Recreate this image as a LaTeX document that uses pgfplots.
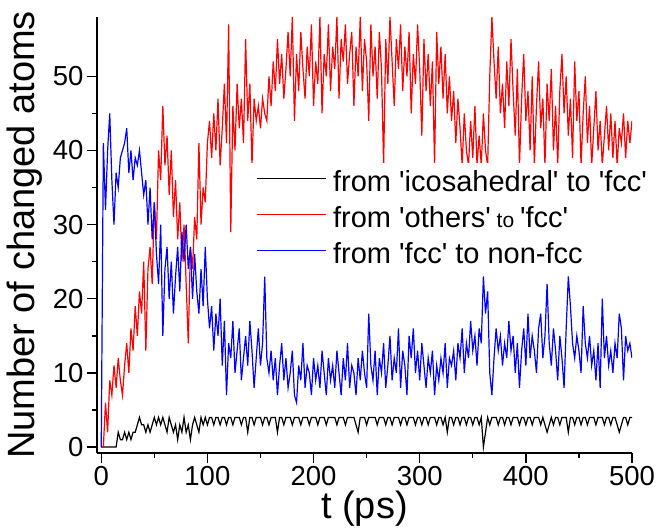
\documentclass[border=0pt]{standalone}
\usepackage{fontspec}
\setmainfont{Liberation Sans}[Ligatures=TeXOff]
\usepackage{pgfplots}
\pgfplotsset{compat=1.18}
\newcommand{\q}{\textquotesingle}
\begin{document}
\begin{tikzpicture}
\useasboundingbox (-97pt,-74pt) rectangle (563pt,453pt);
\begin{axis}[
  scale only axis, width=535pt, height=436pt,
  xmin=-4, xmax=500, ymin=-0.8, ymax=58,
  axis x line*=bottom, axis y line*=left,
  axis line style={line width=1.6pt, -},
  xtick={0,100,...,500}, ytick={0,10,...,50},
  minor x tick num=1, minor y tick num=1,
  tick align=outside,
  major tick length=10pt, minor tick length=5pt,
  every tick/.style={line width=1.4pt, black},
  /pgf/number format/assume math mode=true,
  ticklabel style={font=\fontsize{27.5}{28}\selectfont},
  xlabel={t (ps)}, ylabel={Number of changed atoms},
  xlabel style={at={(axis description cs:0.5,-0.128)}, anchor=center, font=\fontsize{38}{40}\selectfont},
  ylabel style={at={(axis description cs:-0.135,0.5)}, anchor=center, font=\fontsize{38}{40}\selectfont},
  legend cell align=left,
  legend image code/.code={\draw[#1] (0pt,0.3em) -- (69pt,0.3em);},
  legend style={at={(axis cs:138,38.3)}, anchor=north west, draw=none, fill=white,
    inner xsep=8pt, inner ysep=3pt, font=\fontsize{29}{30}\selectfont,
    row sep=5pt, column sep=7pt,
    nodes={inner sep=0pt, text height=25pt, text depth=6pt}},
]
\addplot[black, line width=1.2pt] coordinates {
(0,0)(2,0)(4,0)(6,0)(8,0)(10,0)(12,0)(14,0)(16,2)(18,1)(20,1)(22,2)(24,1)(26,2)(28,1)(30,2)(32,2)(34,3)(36,4)(38,3)(40,3)(42,2)(44,3)(46,2)(48,3)(50,4)
(52,3)(54,4)(56,3)(58,4)(60,3)(62,2)(64,4)(66,3)(68,2)(70,3)(72,1)(74,3)(76,2)(78,4)(80,2)(82,3)(84,1)(86,3)(88,4)(90,3)(92,2)(94,4)(96,3)(98,4)(100,3)
(102,4)(104,4)(106,3)(108,4)(110,4)(112,3)(114,4)(116,4)(118,3)(120,4)(122,4)(124,3)(126,4)(128,4)(130,4)(132,3)(134,4)(136,4)(138,2)(140,4)(142,4)(144,3)(146,4)(148,4)(150,4)
(152,3)(154,4)(156,4)(158,3)(160,4)(162,4)(164,4)(166,2)(168,4)(170,4)(172,3)(174,4)(176,4)(178,4)(180,3)(182,4)(184,4)(186,4)(188,3)(190,4)(192,4)(194,4)(196,3)(198,4)(200,4)
(202,4)(204,3)(206,4)(208,4)(210,4)(212,3)(214,4)(216,4)(218,4)(220,4)(222,3)(224,4)(226,4)(228,4)(230,3)(232,4)(234,4)(236,4)(238,4)(240,3)(242,2)(244,4)(246,4)(248,4)(250,3)
(252,4)(254,4)(256,4)(258,4)(260,3)(262,4)(264,4)(266,4)(268,3)(270,4)(272,4)(274,3)(276,4)(278,4)(280,4)(282,3)(284,4)(286,4)(288,3)(290,4)(292,4)(294,4)(296,3)(298,4)(300,4)
(302,3)(304,4)(306,4)(308,3)(310,4)(312,4)(314,4)(316,3)(318,4)(320,4)(322,3)(324,4)(326,2)(328,4)(330,4)(332,3)(334,4)(336,4)(338,3)(340,4)(342,4)(344,3)(346,4)(348,4)(350,3)
(352,4)(354,4)(356,3)(358,4)(360,0)(362,2)(364,4)(366,3)(368,4)(370,4)(372,4)(374,3)(376,4)(378,4)(380,3)(382,4)(384,4)(386,3)(388,4)(390,4)(392,4)(394,3)(396,4)(398,4)(400,3)
(402,4)(404,4)(406,3)(408,4)(410,4)(412,4)(414,3)(416,4)(418,3)(420,2)(422,3)(424,4)(426,3)(428,4)(430,4)(432,3)(434,4)(436,4)(438,4)(440,2)(442,4)(444,4)(446,3)(448,4)(450,4)
(452,3)(454,4)(456,4)(458,3)(460,4)(462,4)(464,4)(466,3)(468,4)(470,4)(472,4)(474,3)(476,4)(478,4)(480,3)(482,4)(484,4)(486,3)(488,2)(490,3)(492,4)(494,4)(496,3)(498,4)(500,4)
};
\addlegendentry{from \q icosahedral\q{} to \q fcc\q}
\addplot[red, line width=1.2pt] coordinates {
(0,0)(2,0)(4,6)(6,2)(8,9)(10,7)(12,11)(14,8)(16,12)(18,9)(20,7)(22,11)(24,14)(26,10)(28,16)(30,13)(32,19)(34,15)(36,21)(38,18)(40,25)(42,13)(44,24)(46,27)(48,22)(50,33)
(52,28)(54,40)(56,36)(58,46)(60,38)(62,42)(64,34)(66,40)(68,31)(70,36)(72,28)(74,33)(76,25)(78,30)(80,22)(82,14)(84,27)(86,24)(88,31)(90,28)(92,41)(94,30)(96,35)(98,33)(100,41)
(102,44)(104,39)(106,45)(108,40)(110,47)(112,38)(114,43)(116,49)(118,41)(120,57)(122,29)(124,46)(126,40)(128,49)(130,43)(132,47)(134,41)(136,55)(138,44)(140,49)(142,38)(144,47)(146,44)(148,46)(150,43)
(152,47)(154,45)(156,44)(158,50)(160,46)(162,52)(164,48)(166,55)(168,49)(170,53)(172,47)(174,51)(176,56)(178,50)(180,58)(182,44)(184,53)(186,48)(188,56)(190,51)(192,47)(194,54)(196,50)(198,57)(200,46)
(202,52)(204,49)(206,58)(208,45)(210,53)(212,50)(214,57)(216,48)(218,54)(220,51)(222,58)(224,47)(226,55)(228,52)(230,57)(232,49)(234,53)(236,56)(238,46)(240,54)(242,50)(244,58)(246,48)(248,55)(250,52)
(252,44)(254,57)(256,50)(258,54)(260,47)(262,56)(264,51)(266,38)(268,55)(270,49)(272,58)(274,52)(276,46)(278,55)(280,51)(282,57)(284,48)(286,54)(288,50)(290,56)(292,45)(294,53)(296,49)(298,57)(300,51)
(302,42)(304,55)(306,48)(308,53)(310,46)(312,52)(314,38)(316,56)(318,49)(320,54)(322,47)(324,53)(326,45)(328,50)(330,44)(332,48)(334,41)(336,47)(338,43)(340,38)(342,45)(344,40)(346,38)(348,44)(350,39)
(352,46)(354,38)(356,42)(358,38)(360,45)(362,40)(364,38)(366,50)(368,58)(370,52)(372,47)(374,54)(376,45)(378,49)(380,43)(382,52)(384,46)(386,55)(388,48)(390,42)(392,51)(394,38)(396,47)(398,53)(400,44)
(402,48)(404,40)(406,50)(408,38)(410,46)(412,52)(414,43)(416,47)(418,38)(420,49)(422,44)(424,51)(426,40)(428,46)(430,38)(432,48)(434,53)(436,45)(438,50)(440,42)(442,47)(444,39)(446,52)(448,44)(450,48)
(452,38)(454,45)(456,50)(458,41)(460,46)(462,38)(464,43)(466,48)(468,40)(470,44)(472,38)(474,42)(476,46)(478,40)(480,45)(482,39)(484,44)(486,38)(488,43)(490,41)(492,45)(494,39)(496,44)(498,41)(500,44)
};
\addlegendentry{from \q others\q{}{\fontsize{21}{22}\selectfont\ to }\q fcc\q}
\addplot[blue, line width=1.2pt] coordinates {
(0,0)(2,41)(4,32)(6,40)(8,45)(10,36)(12,30)(14,37)(16,35)(18,39)(20,40)(22,41)(24,43)(26,37)(28,40)(30,36)(32,39)(34,38)(36,40)(38,37)(40,34)(42,36)(44,30)(46,35)(48,28)(50,33)
(52,26)(54,22)(56,30)(58,15)(60,24)(62,27)(64,20)(66,25)(68,18)(70,23)(72,27)(74,21)(76,29)(78,25)(80,30)(82,24)(84,27)(86,20)(88,26)(90,21)(92,18)(94,24)(96,19)(98,27)(100,20)
(102,16)(104,19)(106,13)(108,18)(110,15)(112,20)(114,11)(116,17)(118,7)(120,14)(122,12)(124,17)(126,10)(128,13)(130,16)(132,9)(134,12)(136,15)(138,11)(140,17)(142,13)(144,8)(146,12)(148,16)(150,11)
(152,14)(154,23)(156,12)(158,10)(160,13)(162,9)(164,12)(166,7)(168,11)(170,14)(172,9)(174,12)(176,8)(178,10)(180,13)(182,7)(184,6)(186,11)(188,9)(190,14)(192,8)(194,11)(196,10)(198,7)(200,12)
(202,9)(204,11)(206,8)(208,13)(210,10)(212,7)(214,12)(216,9)(218,11)(220,8)(222,13)(224,10)(226,7)(228,12)(230,9)(232,14)(234,8)(236,11)(238,10)(240,7)(242,12)(244,9)(246,13)(248,10)(250,8)
(252,18)(254,11)(256,9)(258,13)(260,7)(262,12)(264,10)(266,14)(268,8)(270,11)(272,15)(274,9)(276,12)(278,10)(280,16)(282,8)(284,13)(286,11)(288,7)(290,15)(292,12)(294,16)(296,10)(298,13)(300,9)
(302,14)(304,11)(306,8)(308,12)(310,10)(312,13)(314,7)(316,11)(318,9)(320,12)(322,10)(324,14)(326,8)(328,12)(330,11)(332,13)(334,9)(336,14)(338,12)(340,16)(342,10)(344,14)(346,12)(348,17)(350,13)
(352,15)(354,11)(356,16)(358,14)(360,23)(362,18)(364,21)(366,10)(368,7)(370,12)(372,16)(374,13)(376,15)(378,11)(380,14)(382,12)(384,17)(386,13)(388,15)(390,10)(392,14)(394,8)(396,13)(398,16)(400,11)
(402,18)(404,12)(406,15)(408,13)(410,10)(412,16)(414,18)(416,12)(418,15)(420,22)(422,14)(424,11)(426,16)(428,13)(430,9)(432,15)(434,12)(436,8)(438,16)(440,23)(442,19)(444,14)(446,12)(448,15)(450,13)
(452,10)(454,19)(456,14)(458,12)(460,15)(462,11)(464,13)(466,9)(468,14)(470,8)(472,20)(474,12)(476,15)(478,11)(480,13)(482,10)(484,14)(486,12)(488,18)(490,16)(492,9)(494,15)(496,13)(498,14)(500,12)
};
\addlegendentry{from \q fcc\q{} to non-fcc}
\end{axis}
\end{tikzpicture}
\end{document}
